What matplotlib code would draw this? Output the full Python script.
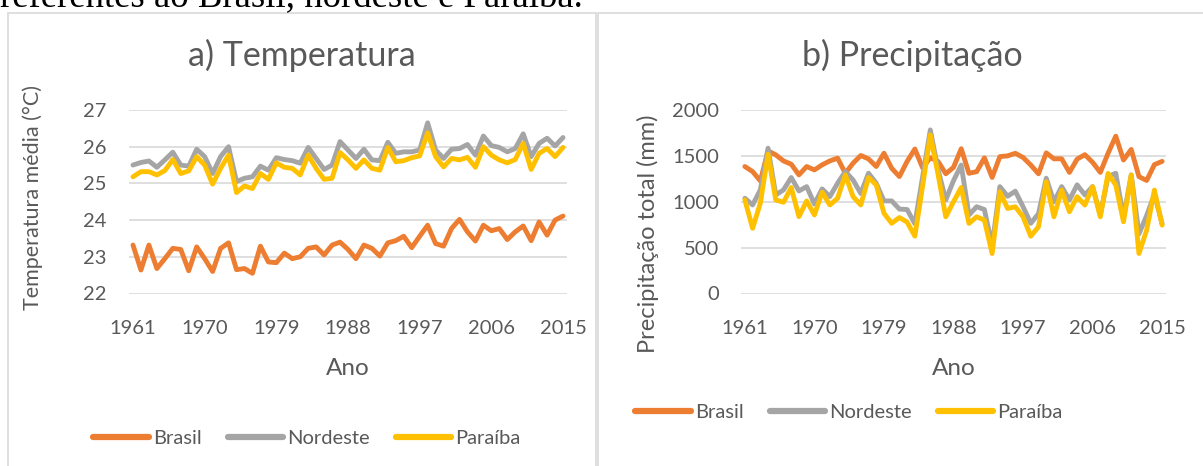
import matplotlib
matplotlib.use("Agg")
import matplotlib.pyplot as plt
from matplotlib.patches import Rectangle
import numpy as np

anos = np.arange(1961, 2016)

# temperatura media (C)
temp_brasil = [23.32, 22.64, 23.32, 22.68, 22.95, 23.23, 23.20, 22.62, 23.27, 22.95,
               22.60, 23.23, 23.38, 22.65, 22.68, 22.55, 23.29, 22.86, 22.84, 23.10,
               22.95, 23.00, 23.23, 23.27, 23.05, 23.32, 23.40, 23.20, 22.95, 23.32,
               23.23, 23.02, 23.38, 23.44, 23.56, 23.25, 23.56, 23.86, 23.36, 23.29,
               23.77, 24.02, 23.68, 23.43, 23.86, 23.71, 23.77, 23.47, 23.68, 23.84,
               23.44, 23.95, 23.59, 24.00, 24.11]
temp_nordeste = [25.50, 25.57, 25.61, 25.44, 25.64, 25.85, 25.50, 25.47, 25.93, 25.73,
                 25.27, 25.73, 26.00, 25.05, 25.14, 25.18, 25.47, 25.36, 25.70, 25.65,
                 25.62, 25.55, 25.98, 25.68, 25.38, 25.50, 26.14, 25.91, 25.68, 25.93,
                 25.64, 25.62, 26.12, 25.82, 25.86, 25.86, 25.91, 26.65, 25.91, 25.68,
                 25.93, 25.95, 26.06, 25.77, 26.29, 26.03, 25.98, 25.86, 25.95, 26.35,
                 25.73, 26.09, 26.23, 26.02, 26.25]
temp_paraiba = [25.18, 25.32, 25.32, 25.23, 25.35, 25.65, 25.27, 25.34, 25.73, 25.50,
                24.98, 25.41, 25.77, 24.75, 24.93, 24.86, 25.27, 25.11, 25.56, 25.44,
                25.41, 25.23, 25.77, 25.41, 25.11, 25.14, 25.84, 25.64, 25.41, 25.64,
                25.41, 25.36, 25.98, 25.59, 25.62, 25.70, 25.75, 26.38, 25.73, 25.45,
                25.68, 25.64, 25.71, 25.44, 26.00, 25.77, 25.64, 25.56, 25.65, 26.09,
                25.38, 25.82, 25.95, 25.73, 25.98]

# precipitacao total (mm)
prec_brasil = [1384, 1329, 1227, 1555, 1511, 1445, 1409, 1293, 1384, 1347,
               1402, 1445, 1475, 1311, 1420, 1504, 1467, 1384, 1529, 1365,
               1275, 1440, 1575, 1370, 1480, 1440, 1305, 1375, 1578, 1310,
               1328, 1478, 1265, 1492, 1500, 1528, 1483, 1400, 1305, 1533,
               1468, 1468, 1320, 1465, 1513, 1430, 1320, 1528, 1715, 1455,
               1570, 1274, 1232, 1405, 1440]
prec_nordeste = [1038, 965, 1129, 1584, 1075, 1129, 1264, 1118, 1165, 975,
                 1140, 1056, 1202, 1329, 1238, 1090, 1311, 1202, 1009, 1009,
                 920, 915, 760, 1270, 1783, 1350, 1020, 1230, 1400, 856,
                 946, 915, 520, 1165, 1060, 1115, 946, 765, 870, 1256,
                 1000, 1165, 1020, 1184, 1075, 1165, 856, 1275, 1311, 830,
                 1293, 650, 850, 1080, 760]
prec_paraiba = [1020, 711, 984, 1518, 1020, 995, 1155, 838, 1009, 856,
                1104, 965, 1038, 1293, 1056, 965, 1264, 1184, 875, 765,
                828, 778, 625, 1170, 1728, 1300, 836, 1000, 1155, 764,
                836, 800, 436, 1109, 927, 945, 836, 625, 727, 1218,
                836, 1127, 891, 1055, 964, 1164, 836, 1309, 1182, 782,
                1291, 436, 691, 1127, 745]

series = ["Brasil", "Nordeste", "Paraíba"]
cores = ["#ED7D31", "#A5A5A5", "#FFC000"]
xticks = [1961, 1970, 1979, 1988, 1997, 2006, 2015]

W, H = 1203, 466
txt = "#595959"
grid = "#D9D9D9"
plt.rcParams["font.family"] = ["Lato", "DejaVu Sans"]

fig = plt.figure(figsize=(W / 100, H / 100), dpi=100)


def box(x0, y0, x1, y1):
    return [x0 / W, 1 - y1 / H, (x1 - x0) / W, (y1 - y0) / H]


# panel frames
for x0, x1 in [(8, 596), (598, 1230)]:
    r = Rectangle((x0 / W, 1 - 480 / H), (x1 - x0) / W, (480 - 13) / H,
                  transform=fig.transFigure, fill=False, edgecolor=grid, lw=1.2)
    fig.add_artist(r)

fig.text(0.0, 1 - 6 / H, "referentes ao Brasil, nordeste e Paraíba.",
         family="Liberation Serif", fontsize=26.5, color="black", va="baseline")


def painel(rect, dados, ylim, yticks, titulo, ylabel, tcx, leg_xy, lab_xy, lab_fs):
    ax = fig.add_axes(rect)
    for nome, vals, c in zip(series, dados, cores):
        ax.plot(anos, vals, color=c, lw=3.5, label=nome,
                solid_joinstyle="round", solid_capstyle="round")
    ax.set_xlim(1960.5, 2015.5)
    ax.set_ylim(*ylim)
    ax.set_yticks(yticks)
    ax.set_xticks(xticks)
    ax.grid(axis="y", color=grid, lw=1.2)
    ax.set_axisbelow(True)
    for s in ax.spines.values():
        s.set_visible(False)
    ax.tick_params(length=0, labelsize=14.5, colors=txt)
    ax.tick_params(axis="y", pad=16)
    ax.tick_params(axis="x", pad=19)
    ax.set_xlabel("Ano", fontsize=17.5, color=txt, labelpad=15)
    ax.set_ylabel(ylabel, fontsize=lab_fs, color=txt, va="center")
    # label position in pixels -> axes fraction
    x0, y0, w, h = rect
    ax.yaxis.set_label_coords((lab_xy[0] / W - x0) / w,
                              ((1 - lab_xy[1] / H) - y0) / h)
    fig.text(tcx / W, 1 - 55 / H, titulo, fontsize=24.5, color=txt,
             ha="center", va="center")
    leg = ax.legend(loc="center", bbox_to_anchor=(leg_xy[0] / W, 1 - leg_xy[1] / H),
                    bbox_transform=fig.transFigure, ncol=3, frameon=False,
                    fontsize=14.5, handlelength=2.75, handletextpad=0.2,
                    columnspacing=1.3, labelcolor=txt)
    for l in leg.get_lines():
        l.set_linewidth(4.5)
        l.set_solid_capstyle("round")
    return ax


ax1 = painel(box(129, 110, 567, 293.5), [temp_brasil, temp_nordeste, temp_paraiba],
             (22, 27), [22, 23, 24, 25, 26, 27], "a) Temperatura",
             "Temperatura média (°C)", 302, (307, 438), (33, 197), 15.5)

ax2 = painel(box(741, 110, 1166, 293.5), [prec_brasil, prec_nordeste, prec_paraiba],
             (0, 2000), [0, 500, 1000, 1500, 2000], "b) Precipitação",
             "Precipitação total (mm)", 912, (849, 412), (648, 234), 17)

fig.savefig("out.png", dpi=100)
